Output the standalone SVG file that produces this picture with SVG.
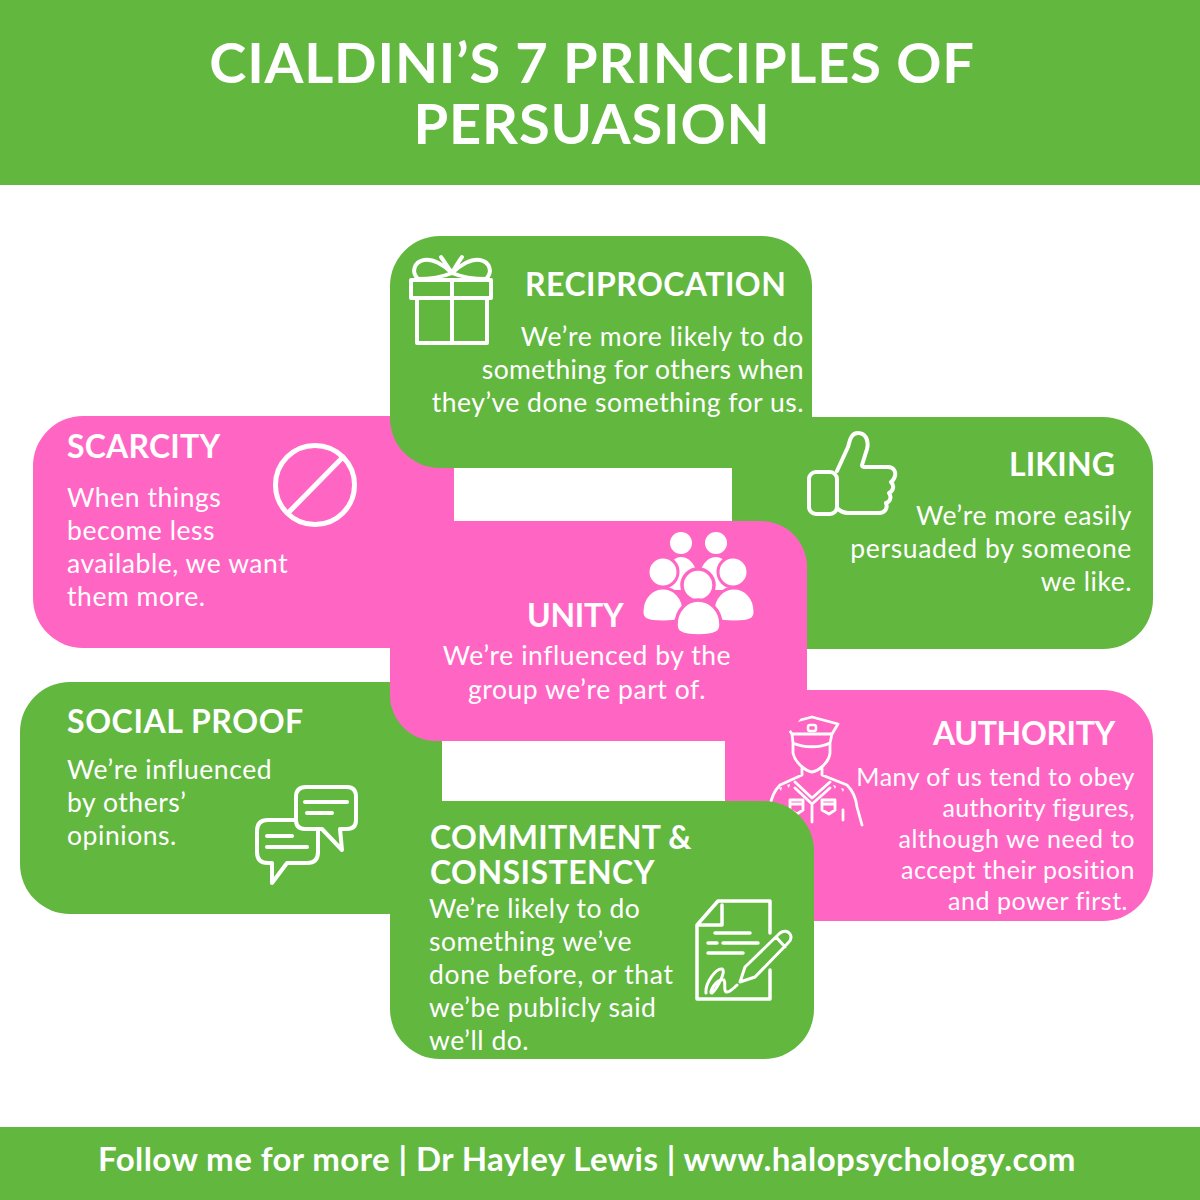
<svg xmlns="http://www.w3.org/2000/svg" width="1200" height="1200" viewBox="0 0 1200 1200">
<style>
text{font-family:"Lato","Liberation Sans",sans-serif;fill:#fff}
.t{font-size:56px;font-weight:700;text-anchor:middle;letter-spacing:.8px}
.h{font-size:32px;font-weight:700;letter-spacing:.45px}
.b{font-size:26.5px;letter-spacing:.55px}
.a{font-size:25px;letter-spacing:.5px;text-anchor:end}
.e{text-anchor:end}
.m{text-anchor:middle}
.f{font-size:33px;font-weight:700;text-anchor:middle;letter-spacing:.42px}
.g{fill:#62b73f}.p{fill:#ff66c4}
.i{fill:none;stroke:#fff;stroke-width:4;stroke-linejoin:round;stroke-linecap:round}
.w{fill:#fff}
.r{fill:#fff;stroke:#ff66c4;stroke-width:3}
</style>
<rect width="1200" height="1200" fill="#fff"/>
<rect id="header" class="g" width="1200" height="185"/>
<text class="t" x="592" y="83">CIALDINI’S 7 PRINCIPLES OF</text>
<text class="t" x="592" y="144">PERSUASION</text>
<rect id="footer" class="g" y="1127" width="1200" height="73"/>
<text class="f" x="587" y="1171">Follow me for more | Dr Hayley Lewis | www.halopsychology.com</text>

<g id="scarcity">
<rect class="p" x="33" y="416" width="421" height="232" rx="50"/>
<text class="h" x="67" y="458" style="letter-spacing:.2px">SCARCITY</text>
<text class="b" x="67" y="507">When things</text>
<text class="b" x="67" y="540">become less</text>
<text class="b" x="67" y="573">available, we want</text>
<text class="b" x="67" y="606">them more.</text>
<circle class="i" cx="315" cy="485" r="39.500" style="stroke-width:5"/>
<path class="i" d="M288 513L343 457" style="stroke-width:5"/>
</g>

<g id="liking">
<rect class="g" x="732" y="417" width="421" height="232" rx="50"/>
<text class="h e" x="1115" y="476" style="letter-spacing:.1px">LIKING</text>
<text class="b e" x="1132" y="525">We’re more easily</text>
<text class="b e" x="1132" y="558" style="letter-spacing:.65px">persuaded by someone</text>
<text class="b e" x="1132" y="591">we like.</text>
<path class="i" d="M837 471L848 447C850 440 851 433 858 433C866 433 869 441 867 449L862 465C862 466 863 467 865 467L888 467C894 467 896 472 895 476C894 479 893 481 891 482C895 486 893 491 889 493C892 497 890 502 886 503C888 508 885 513 879 513L848 513C843 513 840 511 837 508"/>
<rect class="i" x="809" y="472" width="28" height="42" rx="7"/>
</g>

<g id="authority">
<rect class="p" x="725" y="690" width="428" height="231" rx="50"/>
<text class="h e" x="1115" y="745" style="letter-spacing:-.35px">AUTHORITY</text>
<text class="a" x="1135" y="786">Many of us tend to obey</text>
<text class="a" x="1135" y="817" style="letter-spacing:.35px">authority figures,</text>
<text class="a" x="1135" y="848" style="letter-spacing:.6px">although we need to</text>
<text class="a" x="1135" y="879">accept their position</text>
<text class="a" x="1128" y="910">and power first.</text>
<path class="i" style="stroke-width:2.800" d="M785 724L812 717L838 724L832 734L792 734ZM792 734L793 743C804 748 820 748 830 743L832 734M793 744L793 753C795 763 806 771 812 772C818 771 829 763 830 753L830 744M802 767L802 775L780 785C775 790 771 798 770 807L765 825M822 767L822 775L847 785C852 790 856 798 857 807L862 825M795 782L812 798L830 782M795 788L812 804L830 788M812 804L812 822M790 800L803 800L803 810L797 814L790 810ZM822 800L835 800L835 810L829 814L822 810ZM843 810L843 820M790 804H803M822 804H835"/>
<rect class="i" x="808" y="725" width="8" height="6" rx="2" style="stroke-width:2.500"/>
<path class="w" d="M779 788l3 -1l-1 4zM787 785l3 -1l-1 4zM833 785l3 1l-1 3zM841 788l3 1l-1 3z"/>
</g>

<g id="social-proof">
<rect class="g" x="20" y="682" width="422" height="232" rx="50"/>
<text class="h" x="67" y="733" style="letter-spacing:.6px">SOCIAL PROOF</text>
<text class="b" x="67" y="779">We’re influenced</text>
<text class="b" x="67" y="812">by others’</text>
<text class="b" x="67" y="845">opinions.</text>
<path class="i" d="M322 829H305Q296 829 296 820V797Q296 787 306 787H347Q356 787 356 797V820Q356 829 347 829H340L342 850Z"/>
<path class="i" d="M305 802H347M307 813H332"/>
<path class="i" d="M295 820H268Q257 820 257 831V852Q257 863 268 863H272V883L287 863H307Q318 863 318 852V830"/>
<path class="i" d="M267 836H292M267 847H307"/>
</g>

<g id="unity">
<rect class="p" x="390" y="521" width="417" height="220" rx="46"/>
<rect class="p" x="380" y="521" width="100" height="120"/>
<text class="h" x="527" y="627" style="letter-spacing:-.3px">UNITY</text>
<text class="b m" x="587" y="665">We’re influenced by the</text>
<text class="b m" x="587" y="699">group we’re part of.</text>
<g>
<circle class="w" cx="681" cy="543" r="11"/><circle class="w" cx="716" cy="543" r="11"/>
<path class="w" d="M666 590C664 570 672 557 681 557C691 557 699 568 700 590ZM697 590C698 568 706 557 716 557C725 557 733 570 731 590Z"/>
<circle class="r" cx="663" cy="572" r="15"/><circle class="r" cx="733" cy="572" r="15"/>
<path class="r" d="M642 612C642 597 652 588 663 588C674 588 684 597 684 612C684 619 680 622 663 622C646 622 642 619 642 612ZM755 612C755 597 745 588 734 588C723 588 713 597 713 612C713 619 717 622 734 622C751 622 755 619 755 612Z"/>
<circle class="r" cx="698" cy="585" r="16" style="stroke-width:3.500"/>
<path class="r" style="stroke-width:3.500" d="M676 625C676 610 687 600 698 600C710 600 721 610 721 625C721 632 716 636 698 636C681 636 676 632 676 625Z"/>
</g>
</g>

<g id="reciprocation">
<rect class="g" x="390" y="236" width="422" height="232" rx="50"/>
<text class="h" x="525" y="296">RECIPROCATION</text>
<text class="b e" x="804" y="346" style="letter-spacing:.65px">We’re more likely to do</text>
<text class="b e" x="804" y="379" style="letter-spacing:.38px">something for others when</text>
<text class="b e" x="804" y="412" style="letter-spacing:.5px">they’ve done something for us.</text>
<path class="i" d="M411 280H491V298H411ZM417 298V343H487V298M452 280V343M452 273C444 265 432 258 424 260C414 262 411 272 418 279C430 279 442 277 452 273M452 273C460 265 472 258 480 260C490 262 493 272 486 279C474 279 462 277 452 273M452 273C447 266 444 261 441 257M452 273C456 266 459 261 462 257" style="stroke-width:4"/>
</g>

<g id="commitment">
<rect class="g" x="390" y="801" width="424" height="258" rx="50"/>
<text class="h" x="430" y="849" style="letter-spacing:.3px">COMMITMENT &amp;</text>
<text class="h" x="430" y="884">CONSISTENCY</text>
<text class="b" x="429" y="918">We’re likely to do</text>
<text class="b" x="429" y="951">something we’ve</text>
<text class="b" x="429" y="984" style="letter-spacing:.65px">done before, or that</text>
<text class="b" x="429" y="1017">we’be publicly said</text>
<text class="b" x="429" y="1050">we’ll do.</text>
<path class="i" d="M770 933V901H718L697 925V999H770V970M722 905V925H698M715 933H750M708 943H717M723 943H758M708 953H743" style="stroke-width:3.500"/>
<path class="i" d="M740 982L745 967L780 933C784 930 788 931 790 934C792 937 791 940 788 943L755 977ZM740 982L755 977M776 937L785 947M706 993C705 983 716 968 722 969C727 971 716 990 712 993C708 994 716 978 724 980C726 983 723 992 727 992C730 992 733 989 737 985" style="stroke-width:3"/>
</g>
</svg>
